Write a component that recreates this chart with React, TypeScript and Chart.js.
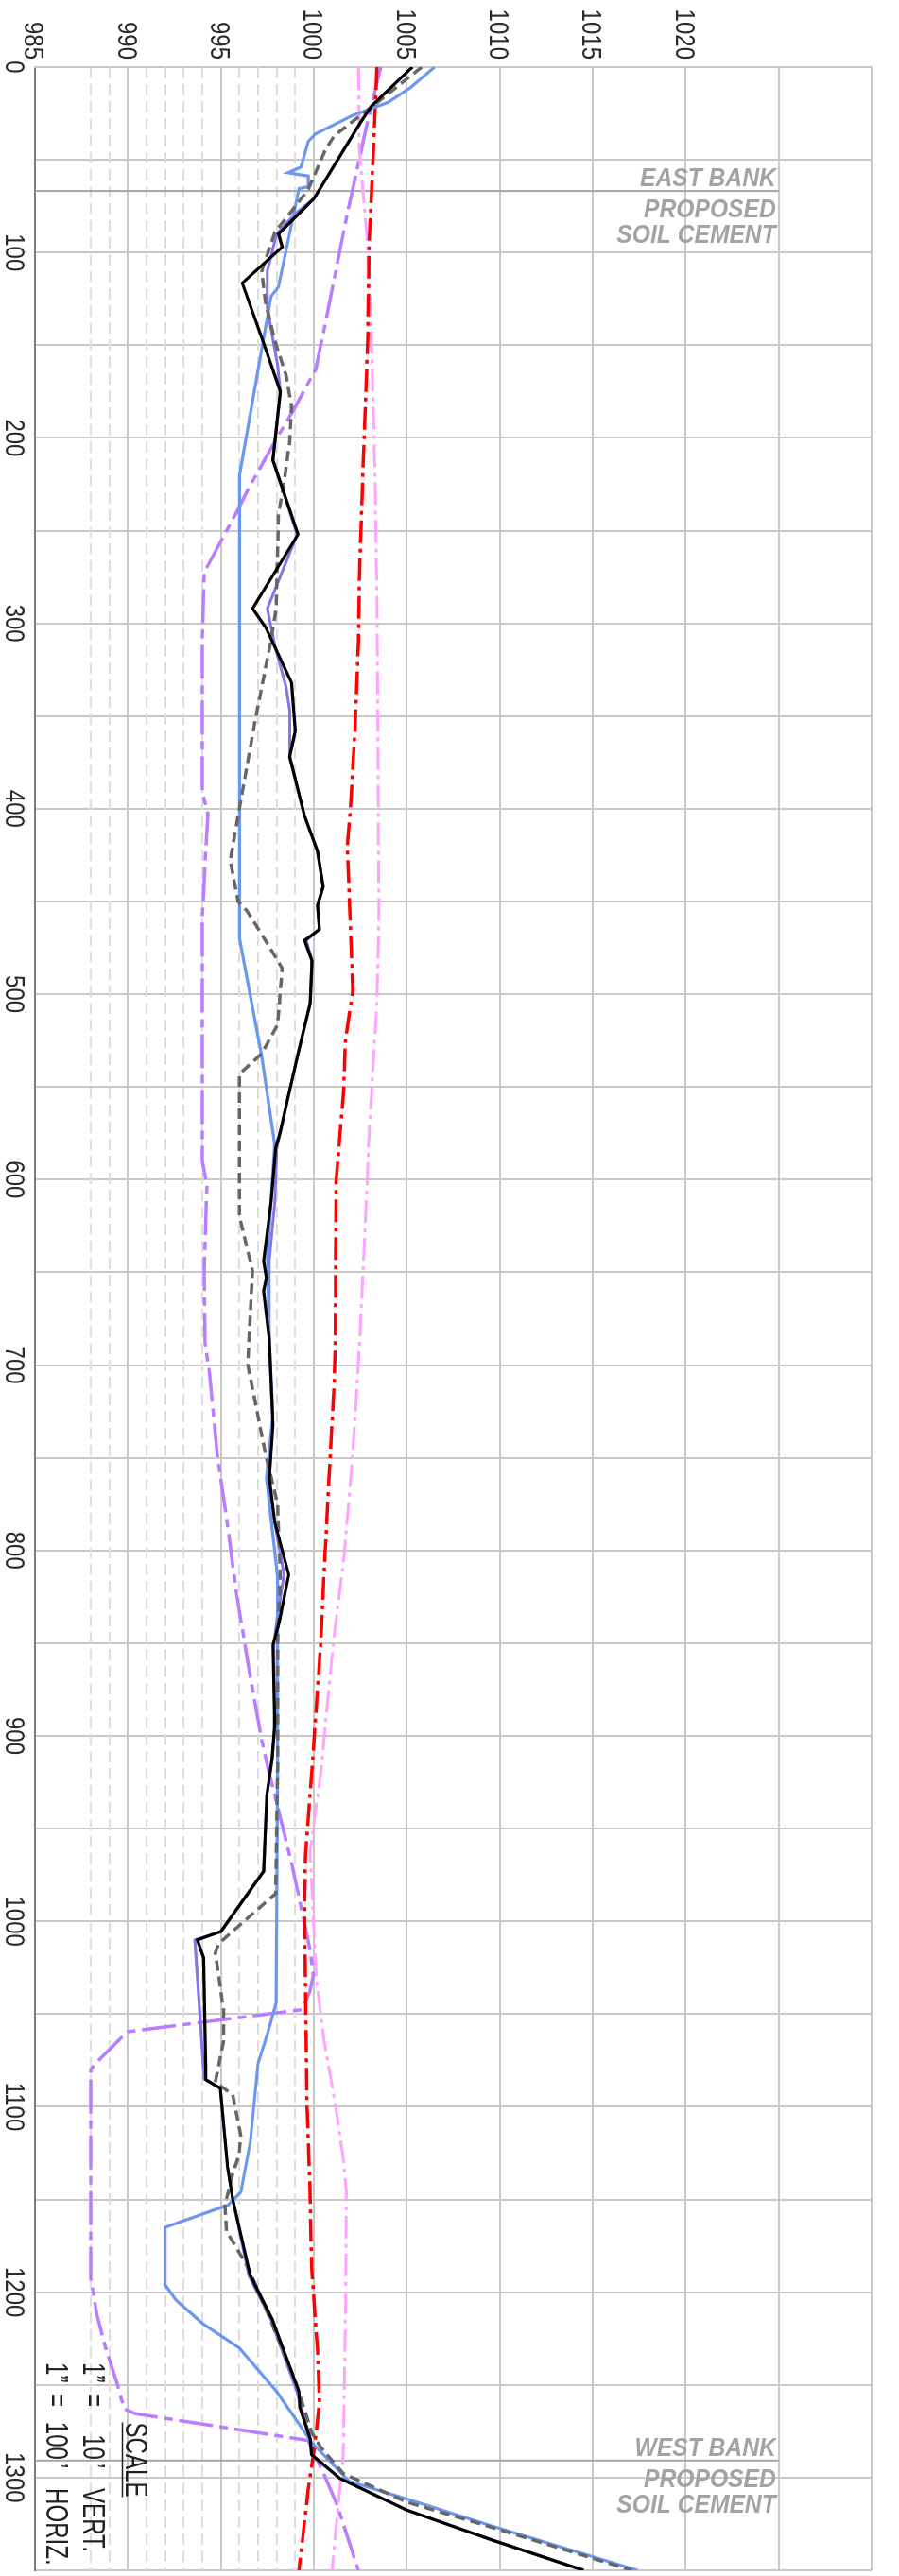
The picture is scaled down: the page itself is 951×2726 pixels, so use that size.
import React, { useEffect, useRef } from 'react';
import { Chart, registerables } from 'chart.js';

Chart.register(...registerables);

const CANVAS_W = 2726;
const CANVAS_H = 951;

const stationMin = 0;
const stationMax = 1350;
const elevMin = 985;
const elevMax = 1030;
const stationStep = 50;
const stationLabelStep = 100;
const elevStep = 5;
const elevLabelMax = 1020;
const minorElevLines = [988, 989, 991, 992, 993, 994, 996, 997, 998, 999];

const eastBankStation = 66.8;
const westBankStation = 1290.8;
const bankLineTopElev = 1025;
const bankLabelElev = 1024.85;
const eastBankLabels = ['EAST BANK', 'PROPOSED', 'SOIL CEMENT'];
const westBankLabels = ['WEST BANK', 'PROPOSED', 'SOIL CEMENT'];

const scaleTitle = 'SCALE';
const scaleRows = [
  ['1”', '=', '10', 'VERT.'],
  ['1”', '=', '100', 'HORIZ.'],
];

// [station, elevation]
const profileBlack: [number, number][] = [
  [0, 1005.3], [21, 1003.1], [30, 1002.5], [71, 1000.0], [90, 998.1], [97, 998.3],
  [116.5, 996.15], [149, 997.3], [175, 998.2], [212, 997.8], [252, 999.15], [292, 996.7],
  [302, 997.4], [332, 998.8], [358, 999.0], [372, 998.7], [404, 999.5], [423, 1000.2],
  [442, 1000.5], [452, 1000.2], [465, 1000.3], [471, 999.5], [482, 999.9], [505, 999.8],
  [530, 999.2], [556, 998.6], [574, 998.2], [583, 997.95], [612, 997.7], [644, 997.3],
  [653, 997.45], [660, 997.3], [686, 997.6], [732, 997.8], [761, 997.6], [785, 997.9],
  [813, 998.65], [838, 998.15], [851, 997.8], [894, 997.9], [912, 997.76], [932, 997.47],
  [973, 997.3], [1005.5, 995.0], [1010, 993.73], [1019.6, 994.07], [1085.4, 994.2],
  [1090, 994.97], [1132.6, 995.36], [1150, 995.64], [1191, 996.58], [1214.6, 997.76],
  [1253.6, 999.2], [1262, 999.24], [1279, 999.8], [1287.6, 999.88], [1300.4, 1001.4],
  [1317.4, 1004.97], [1333.5, 1009.54], [1350, 1014.5],
];

const profileGreyDashed: [number, number][] = [
  [0, 1005.8], [20, 1003.3], [37, 1001.1], [45, 1000.6], [66, 999.7], [79, 998.7],
  [89, 997.9], [110, 997.2], [127, 997.4], [147.5, 997.9], [166, 998.5], [183, 998.8],
  [202, 998.7], [224, 998.4], [241, 998.1], [292, 997.97], [309, 997.7], [351.5, 996.86],
  [394, 996.1], [428, 995.5], [450, 995.93], [455, 996.4], [470.6, 997.37], [486, 998.3],
  [516.5, 998.05], [532, 997.2], [543, 996.0], [620, 996.0], [649, 996.7], [688, 996.5],
  [700, 996.45], [748, 997.4], [775, 998.05], [814, 998.2], [850, 998.05], [918, 998.05],
  [985, 997.95], [1012, 994.88], [1017, 994.7], [1047.6, 995.14], [1064.6, 995.14],
  [1086.7, 994.7], [1093.5, 995.64], [1115.6, 996.07], [1125.8, 995.98], [1136, 995.64],
  [1153, 995.22], [1167, 995.3], [1187.4, 996.5], [1211, 997.5], [1248.5, 999.03],
  [1275.7, 999.88], [1284, 1000.4], [1297.8, 1001.58], [1313.1, 1004.97], [1326.7, 1009.54],
  [1350, 1017.1],
];

const profileBlue: [number, number][] = [
  [0, 1006.5], [11, 1005.2], [19, 1004.0], [26, 1002.1], [31, 1001.1], [36, 1000.1],
  [40, 999.7], [54, 999.3], [57, 998.6], [58.7, 999.7], [64.5, 999.7], [65.5, 999.2],
  [118.5, 998.1], [123.6, 997.7], [220, 996.0], [470, 996.0], [533.5, 997.2], [581, 997.9],
  [640.7, 997.5], [688, 997.6], [725.7, 997.8], [761, 997.45], [814, 998.05], [918, 998.05],
  [1044, 997.97], [1061, 997.5], [1076.5, 997.0], [1119, 996.58], [1146, 996.07],
  [1153, 995.39], [1165, 992.0], [1196, 992.0], [1204.4, 992.6], [1217, 994.03],
  [1230, 995.98], [1253.6, 998.0], [1281, 999.88], [1302, 1001.9], [1311.4, 1004.97],
  [1326, 1009.54], [1350, 1017.4],
];

const profilePurpleSolid: [number, number][] = [
  [0, 1005.3], [21, 1003.1], [30, 1002.5], [71, 1000.0], [79, 999.0], [90, 998.0],
  [110, 997.5], [130, 997.5], [161, 998.05], [175, 998.2], [212, 997.8], [252, 999.1],
  [292, 997.5], [312, 997.9], [334, 998.5], [347, 998.7], [372, 998.7], [404, 999.5],
  [423, 1000.2], [442, 1000.5], [452, 1000.2], [465, 1000.3], [471, 999.6], [482, 999.9],
  [505, 999.8], [530, 999.2], [556, 998.6], [574, 998.2], [583, 998.0], [612, 997.9],
  [644, 997.6], [688, 997.6], [733, 997.8], [761, 997.55], [785, 997.9], [813, 998.4],
  [838, 998.0], [851, 997.85], [894, 997.9], [912, 997.76], [932, 997.47], [973, 997.3],
  [1005.5, 995.0], [1010, 993.6], [1085, 994.1], [1090, 994.97], [1132.6, 995.36],
  [1150, 995.64], [1191, 996.5], [1215, 997.7], [1254, 999.1], [1279, 999.8], [1288, 999.9],
  [1300.4, 1001.4], [1317.4, 1004.97], [1333.5, 1009.54], [1350, 1014.5],
];

const designRed: [number, number][] = [
  [0, 1003.4], [45, 1003.2], [96, 1002.97], [147, 1002.9], [229, 1002.6], [275, 1002.45],
  [309, 1002.4], [360, 1002.2], [403, 1001.95], [420, 1001.8], [498, 1002.1], [525, 1001.7],
  [552, 1001.6], [601, 1001.2], [688, 1001.15], [709, 1001.1], [755, 1000.85], [802, 1000.6],
  [853, 1000.35], [904, 1000.0], [918, 999.9], [966, 999.54], [996.6, 999.5], [1098.6, 999.63],
  [1146, 999.8], [1187, 999.88], [1231.6, 1000.2], [1258.7, 1000.3], [1282.5, 1000.05],
  [1306.3, 999.7], [1350, 999.2],
];

const designPink: [number, number][] = [
  [0, 1002.4], [45, 1002.45], [96, 1002.9], [147, 1003.1], [226, 1003.3], [292, 1003.4],
  [459, 1003.5], [504.6, 1003.39], [576, 1002.97], [617, 1002.8], [688, 1002.46], [717, 1002.29],
  [760, 1002.0], [805.6, 1001.6], [844.8, 1001.1], [887, 1000.68], [918, 1000.4], [962.6, 999.8],
  [1030.6, 1000.13], [1064.6, 1000.56], [1098.6, 1001.15], [1127.5, 1001.58], [1146, 1001.75],
  [1204.4, 1001.71], [1289.3, 1001.58], [1306, 1001.4], [1332, 1001.15], [1350, 1000.98],
];

const designPurple: [number, number][] = [
  [0, 1003.6], [33.5, 1002.8], [79, 1001.8], [139, 1000.6], [163, 1000.1], [185, 998.9],
  [202, 997.9], [227, 996.5], [239, 995.9], [272.5, 994.1], [309, 994.0], [391, 994.0],
  [402.6, 994.3], [428, 994.15], [459, 994.0], [590, 994.0], [603, 994.25], [649, 994.1],
  [688, 994.15], [705, 994.4], [748, 994.8], [785, 995.34], [824, 995.85], [865, 996.53],
  [902.6, 997.2], [920, 997.6], [947, 998.27], [971, 998.86], [995, 999.37], [1015.5, 999.8],
  [1029, 999.97], [1037.4, 999.8], [1047.6, 999.37], [1059.5, 989.97], [1076.5, 988.27],
  [1080, 988.0], [1192.5, 988.0], [1213, 988.35], [1230, 988.8], [1248.6, 989.4],
  [1263, 989.8], [1265.5, 990.4], [1280, 999.7], [1286, 999.97], [1299.5, 1000.6],
  [1314.8, 1001.25], [1350, 1002.4],
];

const FONT = "'Liberation Sans', Arial, sans-serif";

function toPoints(list: [number, number][]) {
  return list.map(([x, y]) => ({ x, y }));
}

function squeezedText(ctx: CanvasRenderingContext2D, text: string, x: number, y: number, align: CanvasTextAlign, sx: number) {
  ctx.save();
  ctx.translate(x, y);
  ctx.scale(sx, 1);
  ctx.textAlign = align;
  ctx.textBaseline = 'alphabetic';
  ctx.fillText(text, 0, 0);
  ctx.restore();
}

const overlayPlugin = {
  id: 'sectionOverlay',
  beforeDatasetsDraw(chart: any) {
    const { ctx, chartArea: a, scales } = chart;
    const xs = scales.x;
    const ys = scales.y;
    ctx.save();
    ctx.strokeStyle = '#dddddd';
    ctx.lineWidth = 2;
    ctx.setLineDash([12, 6]);
    for (const e of minorElevLines) {
      const y = Math.round(ys.getPixelForValue(e));
      ctx.beginPath();
      ctx.moveTo(a.left, y);
      ctx.lineTo(a.right, y);
      ctx.stroke();
    }
    ctx.setLineDash([]);
    ctx.strokeStyle = '#a6a6a6';
    ctx.lineWidth = 2;
    for (const s of [eastBankStation, westBankStation]) {
      const x = xs.getPixelForValue(s);
      ctx.beginPath();
      ctx.moveTo(x, a.bottom);
      ctx.lineTo(x, ys.getPixelForValue(bankLineTopElev));
      ctx.stroke();
    }
    ctx.restore();
  },
  afterDatasetsDraw(chart: any) {
    const { ctx, chartArea: a, scales } = chart;
    const xs = scales.x;
    const ys = scales.y;
    ctx.save();

    // axis labels
    ctx.fillStyle = '#2a2a2a';
    ctx.font = `30px ${FONT}`;
    const capHalf = 0.716 * 30 / 2;
    for (const t of ys.ticks) {
      if (t.value > elevLabelMax) continue;
      squeezedText(ctx, String(t.value), a.left - 8, ys.getPixelForValue(t.value) + capHalf, 'right', 0.8);
    }
    for (const t of xs.ticks) {
      if (t.value % stationLabelStep !== 0) continue;
      squeezedText(ctx, String(t.value), xs.getPixelForValue(t.value), a.bottom + 31, 'center', 0.8);
    }

    // bank annotations (drawn upright in the rotated view)
    ctx.fillStyle = '#a3a3a3';
    ctx.font = `italic bold 28px ${FONT}`;
    const offsets = [-5, 28, 55];
    const drawBank = (station: number, labels: string[]) => {
      const lx = xs.getPixelForValue(station);
      const ay = ys.getPixelForValue(bankLabelElev);
      labels.forEach((t, i) => {
        ctx.save();
        ctx.translate(lx + offsets[i], ay);
        ctx.rotate(-Math.PI / 2);
        squeezedText(ctx, t, 0, 0, 'right', 0.88);
        ctx.restore();
      });
    };
    drawBank(eastBankStation, eastBankLabels);
    drawBank(westBankStation, westBankLabels);

    // scale note
    ctx.fillStyle = '#222222';
    ctx.font = `33px ${FONT}`;
    const cx = a.right - 117;
    const titleBase = a.bottom - 96;
    const sx = 0.73;
    squeezedText(ctx, scaleTitle, cx, titleBase, 'center', sx);
    const tw = ctx.measureText(scaleTitle).width * sx;
    ctx.strokeStyle = '#222222';
    ctx.lineWidth = 1.5;
    ctx.beginPath();
    ctx.moveTo(cx - tw / 2, titleBase + 3.5);
    ctx.lineTo(cx + tw / 2, titleBase + 3.5);
    ctx.stroke();
    const rowBases = [a.bottom - 51, a.bottom - 12];
    scaleRows.forEach((row, i) => {
      const b = rowBases[i];
      squeezedText(ctx, row[0], cx - 103, b, 'left', sx);
      squeezedText(ctx, row[1], cx - 70, b, 'left', sx);
      squeezedText(ctx, row[2], cx, b, 'right', sx);
      squeezedText(ctx, '’', cx + 4, b, 'left', sx);
      squeezedText(ctx, row[3], cx + 30, b, 'left', sx);
    });
    ctx.restore();
  },
};

export default function App() {
  const canvasRef = useRef<HTMLCanvasElement | null>(null);

  useEffect(() => {
    const canvas = canvasRef.current;
    if (!canvas) return;
    const mk = (label: string, pts: [number, number][], color: string, width: number, dash: number[]) => ({
      label,
      data: toPoints(pts),
      borderColor: color,
      backgroundColor: color,
      borderWidth: width,
      borderDash: dash,
      pointRadius: 0,
      pointHoverRadius: 0,
      tension: 0,
      fill: false,
    });
    const chart = new Chart(canvas, {
      type: 'line',
      data: {
        datasets: [
          mk('Survey A', profileBlack, '#000000', 3.2, []),
          mk('Survey B', profileGreyDashed, '#666666', 3.5, [11, 6]),
          mk('Survey C', profileBlue, '#6b97f0', 3.2, []),
          mk('Survey D', profilePurpleSolid, '#8c72e6', 3, []),
          mk('Design 1', designRed, '#ff0000', 3.5, [24, 6, 4, 6]),
          mk('Design 2', designPink, '#ffa3ff', 3, [24, 6, 4, 6]),
          mk('Design 3', designPurple, '#b97dff', 3.5, [36, 7, 9, 7]),
        ] as any,
      },
      options: {
        responsive: false,
        animation: false,
        devicePixelRatio: 1,
        layout: { padding: { top: 29, right: 6, left: 0, bottom: 0 } },
        plugins: { legend: { display: false }, tooltip: { enabled: false } },
        events: [],
        scales: {
          x: {
            type: 'linear',
            min: stationMin,
            max: stationMax,
            ticks: { stepSize: stationStep, autoSkip: false, display: false },
            grid: { color: '#c8c8c8', lineWidth: 2, drawTicks: false },
            border: { color: '#7c7c7c', width: 2 },
            afterFit: (s: any) => { s.height = 37; },
          },
          y: {
            type: 'linear',
            min: elevMin,
            max: elevMax,
            ticks: { stepSize: elevStep, display: false },
            grid: { color: '#c8c8c8', lineWidth: 2, drawTicks: false },
            border: { color: '#c8c8c8', width: 2 },
            afterFit: (s: any) => { s.width = 71; },
          },
        },
      } as any,
      plugins: [overlayPlugin as any],
    });
    return () => chart.destroy();
  }, []);

  return (
    <div style={{ position: 'absolute', top: 0, left: 0, width: 951, height: 2726, overflow: 'hidden', background: '#ffffff' }}>
      <div
        style={{
          position: 'absolute',
          top: 0,
          left: 0,
          width: CANVAS_W,
          height: CANVAS_H,
          transformOrigin: '0 0',
          transform: 'translate(951px, 0px) rotate(90deg)',
        }}
      >
        <canvas ref={canvasRef} width={CANVAS_W} height={CANVAS_H} style={{ width: CANVAS_W, height: CANVAS_H, display: 'block' }} />
      </div>
    </div>
  );
}
